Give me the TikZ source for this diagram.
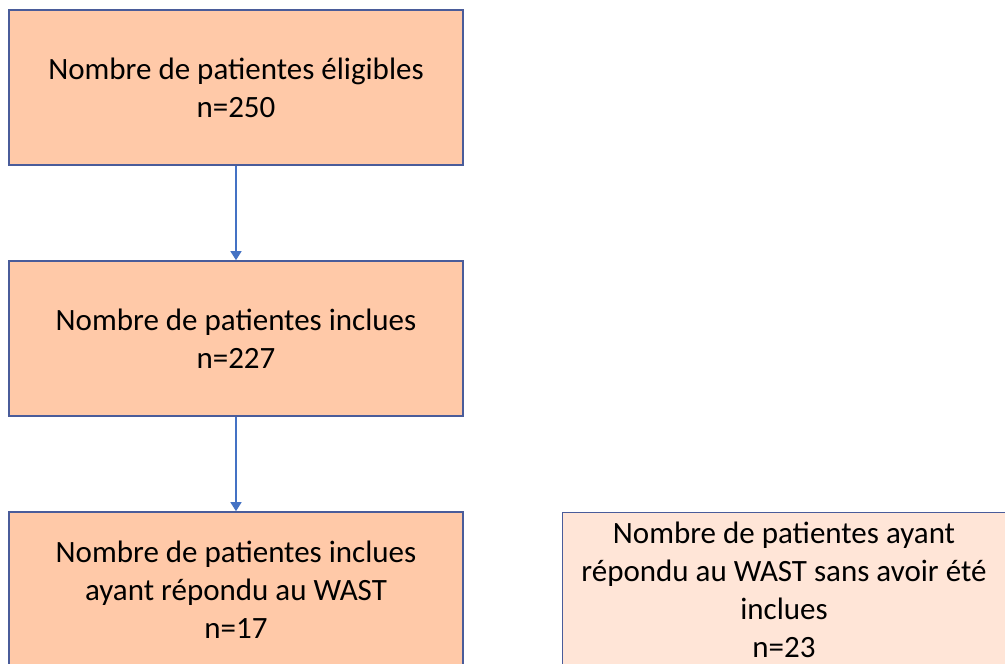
\documentclass[tikz,border=0pt]{standalone}
\usepackage{fontspec}
\setmainfont{Carlito}
\usetikzlibrary{positioning,arrows.meta}
\definecolor{peach}{HTML}{FFC9A8}
\definecolor{lightpeach}{HTML}{FFE5D7}
\definecolor{boxblue}{HTML}{4A5C9A}
\definecolor{arrowblue}{HTML}{4472C4}

\begin{document}
\begin{tikzpicture}[x=1pt,y=-1pt,node distance=251pt,on grid,
  box/.style={draw=boxblue,line width=1.6pt,fill=peach,minimum width=454pt,
    minimum height=155pt,align=center,inner sep=0pt,
    font=\fontsize{31}{38}\selectfont},
  softbox/.style={box,fill=lightpeach,line width=0.8pt,minimum width=443pt},
  flow/.style={draw=arrowblue,line width=1.3pt,-{Triangle[width=11pt,length=9pt]}}]
\path[use as bounding box,clip] (0,0) rectangle (1005,664);
\node[box] (eligibles) at (236,87.5) {Nombre de patientes éligibles\\n=250};
\node[box] (inclues) [below=of eligibles] {Nombre de patientes inclues\\n=227};
\node[box] (wast) [below=of inclues] {Nombre de patientes inclues\\ayant répondu au WAST\\n=17};
\node[softbox] (horswast) [right=548pt of wast] {Nombre de patientes ayant\\répondu au WAST sans avoir été\\inclues\\n=23};
\path[flow] (eligibles) -- (inclues);
\path[flow] (inclues) -- (wast);
\end{tikzpicture}
\end{document}
